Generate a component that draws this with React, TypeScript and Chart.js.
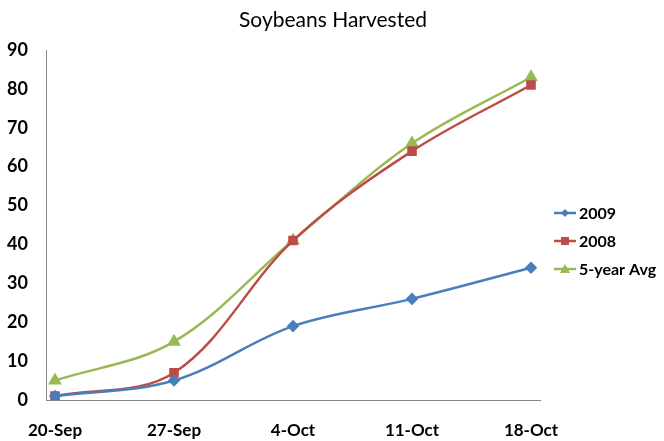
import React, { useEffect, useRef } from "react";
import { Chart, registerables } from "chart.js";

Chart.register(...registerables);

const titleText = "Soybeans Harvested";
const categories = ["20-Sep", "27-Sep", "4-Oct", "11-Oct", "18-Oct"];
const series2009 = [1, 5, 19, 26, 34];
const series2008 = [1, 7, 41, 64, 81];
const seriesAvg = [5, 15, 41, 66, 83];
const yTicks = [0, 10, 20, 30, 40, 50, 60, 70, 80, 90];

const FONT = "Lato, 'Open Sans', sans-serif";

const legendPlugin = {
  id: "customLegend",
  afterDraw(chart: any) {
    const ctx = chart.ctx;
    ctx.save();
    ctx.fillStyle = "#000";
    ctx.font = `normal 21px ${FONT}`;
    ctx.textAlign = "center";
    ctx.textBaseline = "middle";
    ctx.fillText(chart.options.plugins.customLegend.title, 333, 20);
    ctx.restore();

    const rows = [213, 241, 269];
    chart.data.datasets.forEach((ds: any, i: number) => {
      const y = rows[i];
      ctx.save();
      ctx.strokeStyle = ds.borderColor;
      ctx.lineWidth = 2.5;
      ctx.beginPath();
      ctx.moveTo(554, y);
      ctx.lineTo(576, y);
      ctx.stroke();
      ctx.fillStyle = ds.backgroundColor;
      const cx = 565;
      if (ds.pointStyle === "rectRot") {
        ctx.beginPath();
        ctx.moveTo(cx, y - 4);
        ctx.lineTo(cx + 4, y);
        ctx.lineTo(cx, y + 4);
        ctx.lineTo(cx - 4, y);
        ctx.closePath();
        ctx.fill();
      } else if (ds.pointStyle === "rect") {
        ctx.fillRect(cx - 4, y - 4, 8, 8);
      } else {
        ctx.beginPath();
        ctx.moveTo(cx, y - 5);
        ctx.lineTo(cx + 5, y + 4);
        ctx.lineTo(cx - 5, y + 4);
        ctx.closePath();
        ctx.fill();
      }
      ctx.fillStyle = "#000";
      ctx.font = `bold 16px ${FONT}`;
      ctx.textBaseline = "middle";
      ctx.textAlign = "left";
      ctx.fillText(ds.label, 579, y + 1);
      ctx.restore();
    });
  },
};

export default function App() {
  const ref = useRef<HTMLCanvasElement>(null);
  useEffect(() => {
    document.body.style.margin = "0";
    const toPts = (arr: number[]) => arr.map((v, i) => ({ x: i, y: v }));
    const chart = new Chart(ref.current!, {
      type: "line",
      data: {
        datasets: [
          {
            label: "2009",
            data: toPts(series2009),
            borderColor: "#4A7EBB",
            backgroundColor: "#4A7EBB",
            pointStyle: "rectRot",
            pointRadius: 4.5,
            borderWidth: 2.5,
            tension: 0.35,
          },
          {
            label: "2008",
            data: toPts(series2008),
            borderColor: "#BE4B48",
            backgroundColor: "#BE4B48",
            pointStyle: "rect",
            pointRadius: 5,
            borderWidth: 2.5,
            tension: 0.35,
          },
          {
            label: "5-year Avg",
            data: toPts(seriesAvg),
            borderColor: "#98B954",
            backgroundColor: "#98B954",
            pointStyle: "triangle",
            pointRadius: 5.5,
            borderWidth: 2.5,
            tension: 0.35,
          },
        ],
      },
      options: {
        animation: false,
        responsive: false,
        layout: { padding: { right: 124, top: 50, bottom: 0, left: 0 } },
        plugins: {
          legend: { display: false },
          tooltip: { enabled: false },
          title: { display: false },
          customLegend: { title: titleText },
        } as any,
        scales: {
          x: {
            type: "linear",
            min: -0.0756,
            max: 4.0756,
            grid: { display: false, drawTicks: false },
            border: { display: true, color: "#868686", width: 1 },
            afterBuildTicks: (s: any) => {
              s.ticks = categories.map((_, i) => ({ value: i }));
            },
            afterFit: (s: any) => {
              s.height = 41;
            },
            ticks: {
              padding: 20,
              color: "#000",
              font: { family: FONT, size: 17, weight: "bold" },
              callback: (v: any) => categories[Math.round(v)] ?? "",
              maxRotation: 0,
              autoSkip: false,
            },
          },
          y: {
            min: 0,
            max: 90,
            grid: { display: false, drawTicks: false },
            border: { display: true, color: "#868686", width: 1 },
            afterBuildTicks: (s: any) => {
              s.ticks = yTicks.map((v) => ({ value: v }));
            },
            afterFit: (s: any) => {
              s.width = 46;
            },
            ticks: {
              padding: 18,
              color: "#000",
              font: { family: FONT, size: 18, weight: "bold" },
            },
          },
        },
      },
      plugins: [legendPlugin],
    });
    return () => chart.destroy();
  }, []);
  return (
    <div style={{ width: 664, height: 441, background: "#fff" }}>
      <canvas ref={ref} width={664} height={441} />
    </div>
  );
}
